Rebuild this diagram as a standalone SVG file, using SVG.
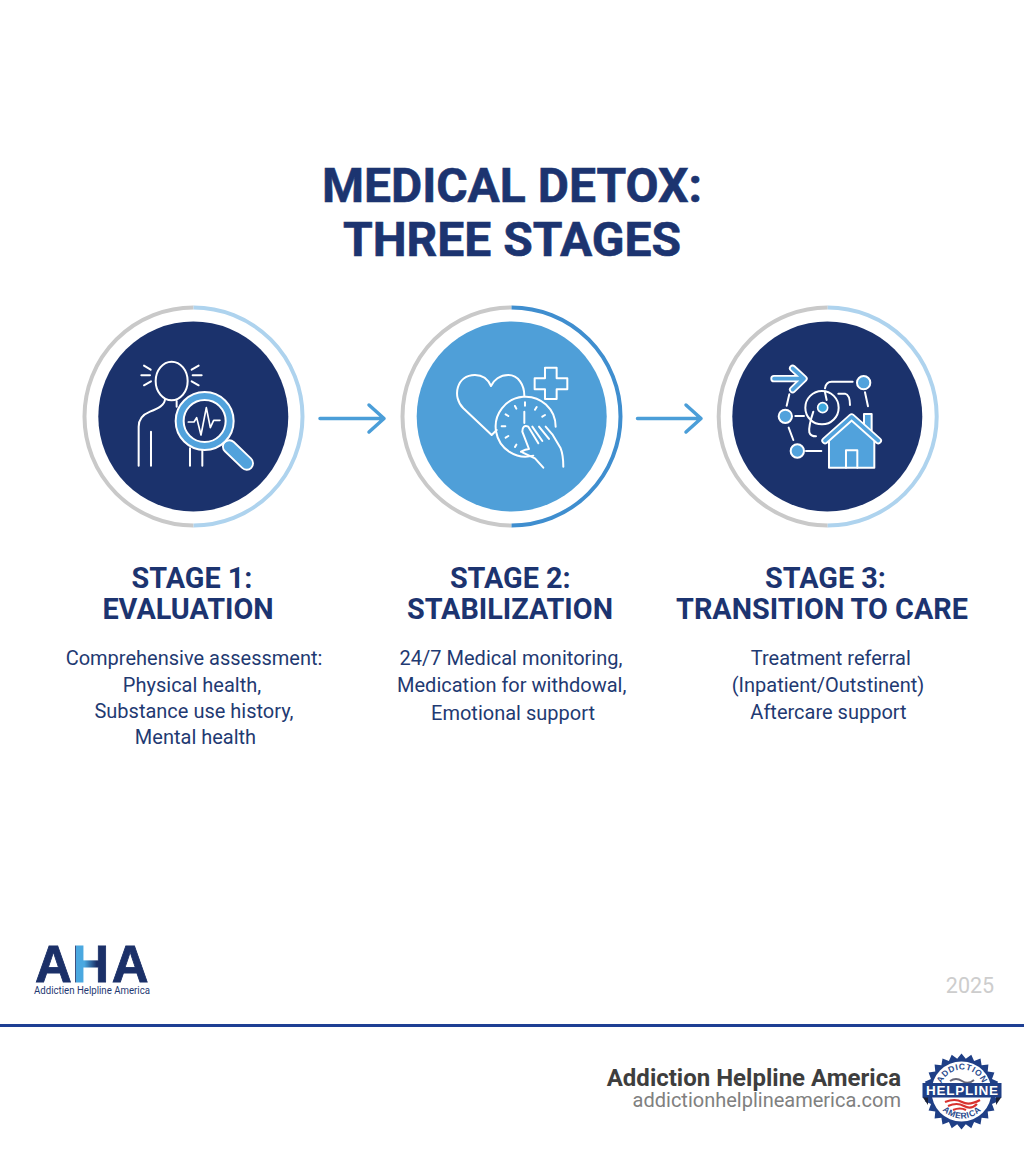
<svg xmlns="http://www.w3.org/2000/svg" width="1024" height="1154" viewBox="0 0 1024 1154">
<style>
text{font-family:Roboto,"Liberation Sans",sans-serif}
.t{font-size:48px;font-weight:700;fill:#1c3470;stroke:#1c3470;stroke-width:.6;text-anchor:middle}
.h{font-size:28.800px;font-weight:700;fill:#1c3470;text-anchor:middle}
.b{font-size:20px;fill:#1f3a72;text-anchor:middle}
.gr{fill:none;stroke:#c9c9c9;stroke-width:4}
.lb{fill:none;stroke:#aed3ee;stroke-width:4}
.db{fill:none;stroke:#3f8ecf;stroke-width:4}
.w{fill:none;stroke:#fff;stroke-width:6;stroke-linecap:round;stroke-linejoin:round}
.wf{fill:#51a2dc;stroke:#fff;stroke-width:6;stroke-linejoin:round}
.arrow{fill:none;stroke:#4b9ed8;stroke-width:3.500;stroke-linecap:round;stroke-linejoin:round}
.seal{font-size:8.500px;font-weight:700;fill:#2a4a8c;letter-spacing:.6px;font-family:"Liberation Sans",sans-serif;text-anchor:middle}
</style>
<defs>
<linearGradient id="ahaG" gradientUnits="userSpaceOnUse" x1="34" y1="0" x2="150" y2="0">
<stop offset="0.36" stop-color="#1b3068"/><stop offset="0.362" stop-color="#4aa8e0"/><stop offset="0.434" stop-color="#4aa8e0"/><stop offset="0.54" stop-color="#1b3068"/>
</linearGradient>
<path id="arcTop" d="M940 1091.500A22 22 0 0 1 984 1091.500"/>
<path id="arcBot" d="M935 1091.500A27 27 0 0 0 989 1091.500"/>
</defs>
<rect width="1024" height="1154" fill="#fff"/>
<g id="title"><text class="t" x="512" y="202">MEDICAL DETOX:</text><text class="t" x="512" y="256">THREE STAGES</text></g>

<g id="connectors">
<path class="arrow" d="M320 418.500H384M369 405L384 418.500L369 432"/>
<path class="arrow" d="M637.500 418.500H701M686 405L701 418.500L686 432"/>
</g>

<g id="stage1">
<path class="gr" d="M193.500 307.500A109 109 0 0 0 193.500 525.500"/>
<path class="lb" d="M193.500 307.500A109 109 0 0 1 193.500 525.500"/>
<circle cx="193.300" cy="416.500" r="95" fill="#1b326c"/>
<g transform="translate(70 295) scale(.3333)">
<ellipse class="w" cx="305" cy="258" rx="48" ry="58"/>
<path class="w" d="M222 212L242 224M214 241H240M222 271L243 259M386 212L365 224M395 241H368M386 271L365 259"/>
<path class="w" d="M285 312C285 330 265 340 240 350C215 360 206 375 206 395V512M243 410V512M360 460V512M397 460V512M320 318V335"/>
<path d="M478 455L530 505" fill="none" stroke="#fff" stroke-width="44" stroke-linecap="round"/>
<path d="M478 455L530 505" fill="none" stroke="#51a2dc" stroke-width="33" stroke-linecap="round"/>
<circle cx="404" cy="378" r="87" fill="#51a2dc" stroke="#fff" stroke-width="6"/>
<circle cx="404" cy="378" r="63" fill="#1b326c" stroke="#fff" stroke-width="6"/>
<path class="w" style="stroke-width:5" d="M355 381H372L380 368L393 420L409 338L421 398L431 376H450"/>
</g>
<text class="h" x="192" y="588">STAGE 1:</text><text class="h" x="188" y="619">EVALUATION</text>
<text class="b" x="194" y="665">Comprehensive assessment:</text><text class="b" x="192" y="692">Physical health,</text><text class="b" x="194" y="718">Substance use history,</text><text class="b" x="195.500" y="744">Mental health</text>
</g>

<g id="stage2">
<path class="gr" d="M511.500 307.500A109 109 0 0 0 511.500 525.500"/>
<path class="db" d="M511.500 307.500A109 109 0 0 1 511.500 525.500"/>
<circle cx="511.700" cy="416.500" r="95" fill="#4f9fd8"/>
<g transform="translate(395 295) scale(.3333)">
<path class="w" d="M290 420L205 340C170 305 185 240 240 240C265 240 280 255 288 273C296 255 315 240 340 240C370 240 388 270 388 302M290 420L305 405"/>
<path class="w" d="M450 218H485V250H517V283H485V312H450V283H419V250H450Z"/>
<path class="w" d="M415 482A90 90 0 1 1 482 395"/>
<path class="w" d="M388 350V384M390 322V332M425 336L420 344M450 360L442 365M360 333L364 341M332 358L340 363M320 394H331M332 428L340 423M360 456L364 449"/>
<path class="w" d="M378 470Q392 462 402 462L382 410Q382 388 400 395L430 445M412 395L442 438M432 395L462 432M452 395L472 418L497 460Q505 480 505 515M382 472L420 490L445 518"/>
</g>
<text class="h" x="510.300" y="588">STAGE 2:</text><text class="h" x="510" y="619">STABILIZATION</text>
<text class="b" x="511" y="665">24/7 Medical monitoring,</text><text class="b" x="511.700" y="692">Medication for withdowal,</text><text class="b" x="513" y="720">Emotional support</text>
</g>

<g id="stage3">
<path class="gr" d="M827.700 307.500A109 109 0 0 0 827.700 525.500"/>
<path class="lb" d="M827.700 307.500A109 109 0 0 1 827.700 525.500"/>
<circle cx="827.300" cy="416.500" r="95" fill="#1b326c"/>
<g transform="translate(710 295) scale(.3333)">
<path d="M192 251H280M248 220L282 251L248 284" fill="none" stroke="#fff" stroke-width="22" stroke-linecap="round" stroke-linejoin="round"/>
<path d="M192 251H280M248 220L282 251L248 284" fill="none" stroke="#51a2dc" stroke-width="11" stroke-linecap="round" stroke-linejoin="round"/>
<path class="w" d="M345 280Q348 260 365 260H428M238 298L230 332M256 363H282M236 398L250 435M288 468H334M465 292L474 334M385 296H405Q420 300 420 330M310 350Q295 395 298 412Q302 424 318 424M345 292L350 315"/>
<circle class="w" cx="336" cy="338" r="50"/>
<circle cx="338" cy="338" r="15" fill="#3ea7dc" stroke="#fff" stroke-width="5"/>
<circle class="wf" cx="461" cy="263" r="20"/><circle class="wf" cx="226" cy="364" r="20"/><circle class="wf" cx="262" cy="468" r="20"/>
<rect class="wf" x="462" y="357" width="23" height="50"/>
<path class="wf" d="M357 518V425L425 375L493 425V518Z"/>
<path d="M345 437L425 366L505 437" fill="none" stroke="#fff" stroke-width="22" stroke-linecap="round" stroke-linejoin="round"/>
<path d="M345 437L425 366L505 437" fill="none" stroke="#51a2dc" stroke-width="11" stroke-linecap="round" stroke-linejoin="round"/>
<path class="w" d="M408 518V466H442V518"/>
</g>
<text class="h" x="825.500" y="588">STAGE 3:</text><text class="h" x="822" y="619">TRANSITION TO CARE</text>
<text class="b" x="830.800" y="665">Treatment referral</text><text class="b" x="828" y="692">(Inpatient/Outstinent)</text><text class="b" x="828.500" y="719">Aftercare support</text>
</g>

<g id="logo">
<text x="35 72.300 111.700" y="982" style="font-family:'Liberation Sans',sans-serif;font-weight:700;font-size:51px" fill="url(#ahaG)" stroke="url(#ahaG)" stroke-width=".8">AHA</text>
<text x="34" y="994" textLength="116" lengthAdjust="spacingAndGlyphs" style="font-size:10.500px;fill:#1f3a72">Addictien Helpline America</text>
</g>
<text id="year" x="970" y="993" text-anchor="middle" style="font-size:21.500px;fill:#cdcdcd">2025</text>

<g id="footer">
<rect x="0" y="1024" width="1024" height="3" fill="#1e3f94"/>
<text x="901" y="1086" text-anchor="end" style="font-size:24px;font-weight:700;fill:#3e3e3e">Addiction Helpline America</text>
<text x="901" y="1107" text-anchor="end" style="font-size:20px;fill:#808080">addictionhelplineamerica.com</text>
</g>
<g id="badge">
<polygon transform="translate(961.500 1091.500)" fill="#1f3f86" points="38,0 32.700,4.300 36.700,9.800 30.500,12.600 32.900,19 26.200,20.100 26.900,26.900 20.100,26.200 19,32.900 12.600,30.500 9.800,36.700 4.300,32.700 0,38 -4.300,32.700 -9.800,36.700 -12.600,30.500 -19,32.900 -20.100,26.200 -26.900,26.900 -26.200,20.100 -32.900,19 -30.500,12.600 -36.700,9.800 -32.700,4.300 -38,0 -32.700,-4.300 -36.700,-9.800 -30.500,-12.600 -32.900,-19 -26.200,-20.100 -26.900,-26.900 -20.100,-26.200 -19,-32.900 -12.600,-30.500 -9.800,-36.700 -4.300,-32.700 0,-38 4.300,-32.700 9.800,-36.700 12.600,-30.500 19,-32.900 20.100,-26.200 26.900,-26.900 26.200,-20.100 32.900,-19 30.500,-12.600 36.700,-9.800 32.700,-4.300"/>
<circle cx="961.500" cy="1091.500" r="30" fill="#fff"/>
<text class="seal"><textPath href="#arcTop" startOffset="50%">ADDICTION</textPath></text>
<text class="seal"><textPath href="#arcBot" startOffset="50%">AMERICA</textPath></text>
<path d="M950 1081Q956 1077 962 1081T974 1080" fill="none" stroke="#667" stroke-width="2"/>
<path d="M945 1102Q955 1098 962 1102T980 1100M948 1106Q957 1102 964 1106T977 1104M953 1110Q960 1107 966 1110" fill="none" stroke="#d8322f" stroke-width="2.200"/>
<path d="M922.500 1097H928V1105ZM1001.500 1097H996V1105Z" fill="#1a2238"/>
<rect x="922.500" y="1083" width="79" height="14.500" fill="#1f3f86"/>
<text x="962" y="1095" text-anchor="middle" textLength="72" style="font-size:13.500px;font-weight:700;fill:#fff;font-family:'Liberation Sans',sans-serif">HELPLINE</text>
</g>
</svg>
